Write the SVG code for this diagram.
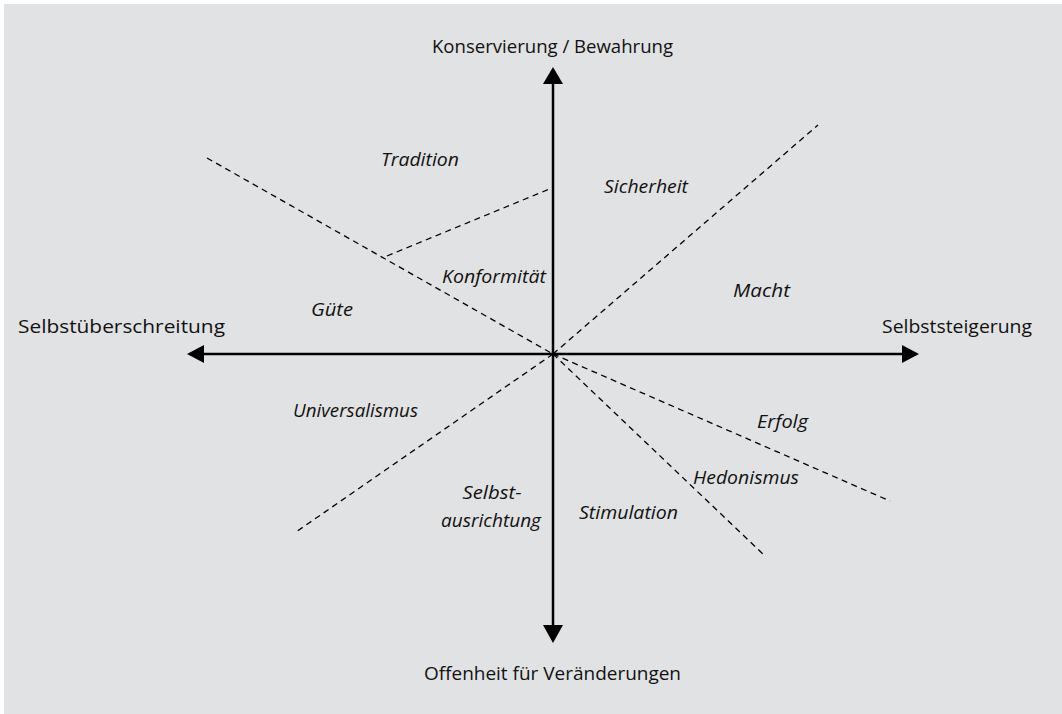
<svg xmlns="http://www.w3.org/2000/svg" width="1062" height="714" viewBox="0 0 1062 714">
<style>
.axis{stroke:#000;stroke-width:2.5;fill:none}
.dash{stroke:#000;stroke-width:1.3;stroke-dasharray:6 4.5;fill:none}
.head{fill:#000}
.t{font-family:"Open Sans","Liberation Sans",sans-serif;font-size:18.5px;fill:#111}
.i{font-family:"Open Sans","Liberation Sans",sans-serif;font-size:17.5px;font-style:italic;fill:#111}
</style>
<rect x="0" y="0" width="1062" height="714" fill="#ffffff"/>
<rect x="4" y="4" width="1058" height="710" fill="#e1e2e3"/>
<g id="connectors">
<line class="dash" x1="207" y1="158" x2="553" y2="354"/>
<line class="dash" x1="553" y1="354" x2="818" y2="125"/>
<line class="dash" x1="553" y1="354" x2="296" y2="532"/>
<line class="dash" x1="553" y1="354" x2="890" y2="501"/>
<line class="dash" x1="553" y1="354" x2="764" y2="555"/>
<line class="dash" x1="387" y1="256" x2="552" y2="188"/>
<line class="axis" x1="553" y1="80" x2="553" y2="628"/>
<line class="axis" x1="200" y1="354" x2="906" y2="354"/>
<polygon class="head" points="553,67 543,84 563,84"/>
<polygon class="head" points="553,643 543,625 563,625"/>
<polygon class="head" points="187,354 204,345 204,363"/>
<polygon class="head" points="919,354 902,345 902,363"/>
</g>
<g id="axis-top"><text class="t" x="552.5" y="53" text-anchor="middle" textLength="241" lengthAdjust="spacingAndGlyphs">Konservierung / Bewahrung</text></g>
<g id="axis-left"><text class="t" x="18" y="333" textLength="207" lengthAdjust="spacingAndGlyphs">Selbstüberschreitung</text></g>
<g id="axis-right"><text class="t" x="882" y="333" textLength="150" lengthAdjust="spacingAndGlyphs">Selbststeigerung</text></g>
<g id="axis-bottom"><text class="t" x="552.5" y="680" text-anchor="middle" textLength="257" lengthAdjust="spacingAndGlyphs">Offenheit für Veränderungen</text></g>
<g id="tradition"><text class="i" x="381" y="166" textLength="78" lengthAdjust="spacingAndGlyphs">Tradition</text></g>
<g id="sicherheit"><text class="i" x="604" y="193" textLength="84" lengthAdjust="spacingAndGlyphs">Sicherheit</text></g>
<g id="konformitaet"><text class="i" x="442" y="283" textLength="104" lengthAdjust="spacingAndGlyphs">Konformität</text></g>
<g id="macht"><text class="i" x="733" y="297" textLength="57" lengthAdjust="spacingAndGlyphs">Macht</text></g>
<g id="guete"><text class="i" x="311" y="316" textLength="42" lengthAdjust="spacingAndGlyphs">Güte</text></g>
<g id="universalismus"><text class="i" x="293" y="417" textLength="125" lengthAdjust="spacingAndGlyphs">Universalismus</text></g>
<g id="erfolg"><text class="i" x="757" y="428" textLength="51" lengthAdjust="spacingAndGlyphs">Erfolg</text></g>
<g id="hedonismus"><text class="i" x="693" y="484" textLength="106" lengthAdjust="spacingAndGlyphs">Hedonismus</text></g>
<g id="selbstausrichtung"><text class="i" x="492" y="499" text-anchor="middle" textLength="59" lengthAdjust="spacingAndGlyphs">Selbst-</text><text class="i" x="491" y="527" text-anchor="middle" textLength="100" lengthAdjust="spacingAndGlyphs">ausrichtung</text></g>
<g id="stimulation"><text class="i" x="579" y="519" textLength="99" lengthAdjust="spacingAndGlyphs">Stimulation</text></g>
</svg>
